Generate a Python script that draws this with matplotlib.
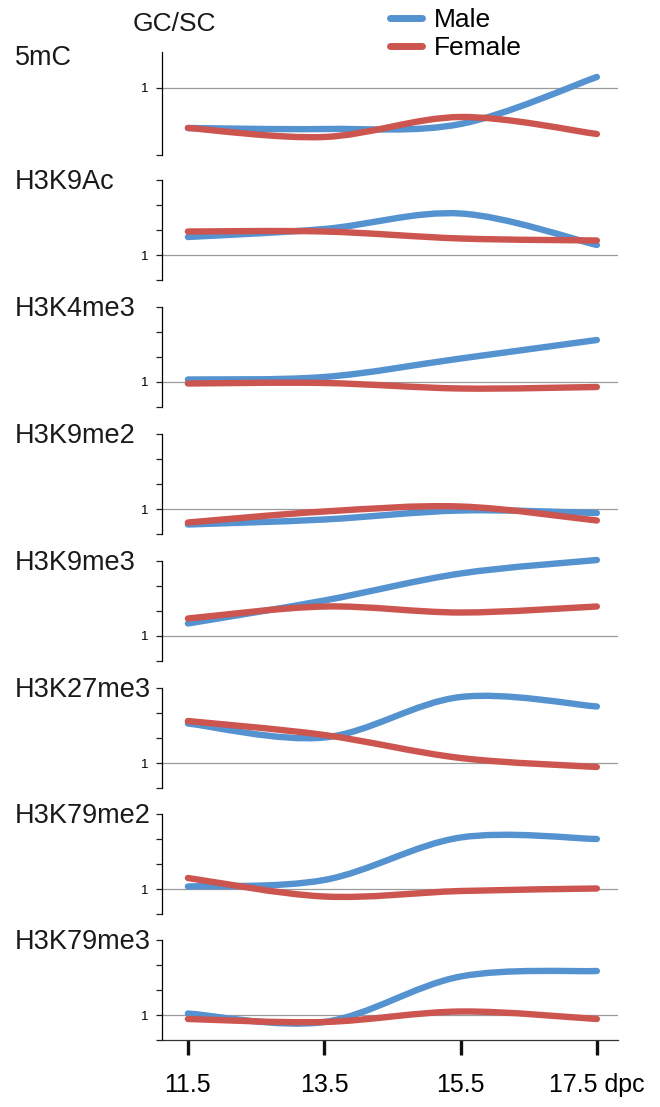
import numpy as np
import matplotlib
matplotlib.use("Agg")
import matplotlib.pyplot as plt
from matplotlib.path import Path
from matplotlib.patches import PathPatch
from matplotlib.lines import Line2D

plt.rcParams['font.family'] = ['Liberation Sans', 'DejaVu Sans']

# data: GC/SC ratio per histone mark, male vs female
days = [11.5, 13.5, 15.5, 17.5]
day_labels = ['11.5', '13.5', '15.5', '17.5 dpc']
marks = ['5mC', 'H3K9Ac', 'H3K4me3', 'H3K9me2', 'H3K9me3', 'H3K27me3', 'H3K79me2', 'H3K79me3']

male_5mc = [0.60, 0.59, 0.64, 1.11]
female_5mc = [0.60, 0.51, 0.71, 0.54]
male_h3k9ac = [1.36, 1.52, 1.83, 1.20]
female_h3k9ac = [1.47, 1.47, 1.33, 1.29]
male_h3k4me3 = [1.05, 1.10, 1.47, 1.84]
female_h3k4me3 = [0.97, 0.98, 0.87, 0.90]
male_h3k9me2 = [0.69, 0.79, 0.97, 0.92]
female_h3k9me2 = [0.73, 0.95, 1.05, 0.77]
male_h3k9me3 = [1.25, 1.71, 2.25, 2.52]
female_h3k9me3 = [1.35, 1.59, 1.47, 1.59]
male_h3k27me3 = [1.79, 1.51, 2.32, 2.13]
female_h3k27me3 = [1.84, 1.56, 1.10, 0.92]
male_h3k79me2 = [1.05, 1.18, 2.03, 2.00]
female_h3k79me2 = [1.22, 0.85, 0.96, 1.01]
male_h3k79me3 = [1.03, 0.86, 1.77, 1.88]
female_h3k79me3 = [0.92, 0.86, 1.07, 0.92]

male = [male_5mc, male_h3k9ac, male_h3k4me3, male_h3k9me2, male_h3k9me3,
        male_h3k27me3, male_h3k79me2, male_h3k79me3]
female = [female_5mc, female_h3k9ac, female_h3k4me3, female_h3k9me2, female_h3k9me3,
          female_h3k27me3, female_h3k79me2, female_h3k79me3]

BLUE = '#5592d0'
RED = '#cd5550'


def smooth_path(x, y):
    # excel-style smoothed line: bezier segments through the points
    pts = np.column_stack([x, y])
    n = len(pts)
    verts = [pts[0]]
    codes = [Path.MOVETO]
    for i in range(n - 1):
        p0 = pts[max(i - 1, 0)]
        p1 = pts[i]
        p2 = pts[i + 1]
        p3 = pts[min(i + 2, n - 1)]
        verts += [p1 + (p2 - p0) / 6, p2 - (p3 - p1) / 6, p2]
        codes += [Path.CURVE4] * 3
    return Path(verts, codes)


W, H = 660, 1107
fig = plt.figure(figsize=(W / 100, H / 100), dpi=100)

panel_px = [(52, 155), (180, 280), (307, 407), (434, 534),
            (561, 661), (688, 788), (814, 914), (940, 1040)]
left, right = 162, 618

for i, mark in enumerate(marks):
    top, bot = panel_px[i]
    ax = fig.add_axes([left / W, 1 - bot / H, (right - left) / W, (bot - top) / H])
    ax.set_xlim(11.12, 17.81)
    if i == 0:
        ax.set_ylim(0.33, 1.36)
        ax.set_yticks([0.33, 1], ['', '1'])
    else:
        ax.set_ylim(0.5, 2.5)
        ax.set_yticks([0.5, 1, 1.5, 2, 2.5], ['', '1', '', '', ''])
    ax.axhline(1, color='#9a9a9a', lw=0.9, zorder=1)

    for vals, col in [(male[i], BLUE), (female[i], RED)]:
        patch = PathPatch(smooth_path(days, vals), fill=False, edgecolor=col,
                          lw=4.6, capstyle='round', joinstyle='round', zorder=3,
                          clip_on=False)
        ax.add_patch(patch)

    for s in ['top', 'right']:
        ax.spines[s].set_visible(False)
    ax.spines['left'].set_linewidth(0.9)
    ax.tick_params(axis='y', direction='out', length=4, width=0.9, pad=6,
                   labelsize=9.5, color='#222222')
    if i == len(marks) - 1:
        ax.spines['bottom'].set_linewidth(0.9)
        ax.spines['bottom'].set_color('#333333')
        ax.set_xticks(days, day_labels)
        ax.tick_params(axis='x', direction='out', length=11, width=2.4,
                       pad=13, labelsize=18, color='#111111')
    else:
        ax.spines['bottom'].set_visible(False)
        ax.set_xticks([])

    ycen = 58 if i == 0 else top + 2
    fig.text(15 / W, 1 - ycen / H, mark, fontsize=19.5, va='center', ha='left',
             color='#1a1a1a')

fig.text(133 / W, 1 - 24 / H, 'GC/SC', fontsize=19, va='center', ha='left',
         color='#1a1a1a')

handles = [Line2D([], [], color=BLUE, lw=5, solid_capstyle='round'),
           Line2D([], [], color=RED, lw=5, solid_capstyle='round')]
fig.legend(handles, ['Male', 'Female'], loc='upper left',
           bbox_to_anchor=(390 / W, 1 - 8 / H), frameon=False, fontsize=19,
           handlelength=1.2, handletextpad=0.45, labelspacing=0.15,
           borderaxespad=0, borderpad=0)

fig.savefig('out.png', dpi=100)
